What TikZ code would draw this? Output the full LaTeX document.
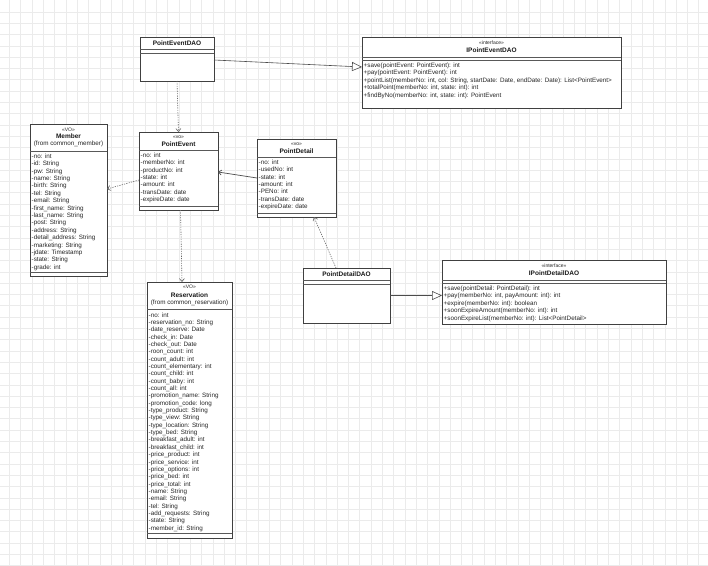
\documentclass[tikz,border=0pt]{standalone}
\usepackage{fontspec}
\setmainfont{Liberation Sans}
\usetikzlibrary{arrows.meta,calc,shadows}
\tikzset{
  cls/.style={draw=black!75, line width=0.7pt, fill=white, rectangle, inner sep=0pt, outer sep=0pt,
    drop shadow={shadow xshift=1.2pt, shadow yshift=-1.2pt, fill=black!35, opacity=0.8}},
  sepline/.style={draw=black!65, line width=0.6pt},
  rowtext/.style={font=\fontsize{6.3}{7.4}\selectfont, inner sep=0pt, anchor=base west, text=black!85},
  clsname/.style={font=\bfseries\fontsize{6.5}{7.5}\selectfont, inner sep=0pt, anchor=base, text=black!90},
  stereo/.style={font=\fontsize{5}{6}\selectfont, inner sep=0pt, anchor=base, text=black!85},
  fromtext/.style={font=\fontsize{6.3}{7.4}\selectfont, inner sep=0pt, anchor=base, text=black!85},
  dep/.style={draw=black!60, line width=0.6pt, dash pattern=on 1.2pt off 1.2pt, -{Straight Barb[length=3pt,width=5pt]}},
  assoc/.style={draw=black!70, line width=0.7pt, -{Straight Barb[length=3pt,width=5pt]}},
  real/.style={draw=black!70, line width=0.6pt, -{Triangle[open,length=10pt,width=9pt,fill=white]}},
  gridline/.style={draw=black!8, line width=0.7pt},
}
\newcommand\classrows[5]{%
  \foreach \t [count=\i] in {#5} {\node[rowtext] (#2\i) at ($(#1.north west)+(1.5,{#3+#4*(\i-1)})$) {\t};}}
\newcommand\seprule[2]{%
  \draw[sepline] ($(#1.north west)+(0,#2)$) -- ($(#1.north east)+(0,#2)$);}
\begin{document}
\begin{tikzpicture}[x=1pt,y=-1pt]
\useasboundingbox (0,0) rectangle (708,565);
\fill[white] (0,0) rectangle (708,565);
\foreach \i in {0,...,62} \draw[gridline] ({9.5+11.3*\i},0) -- ({9.5+11.3*\i},565);
\foreach \j in {0,...,49} \draw[gridline] (0,{12+11.3*\j}) -- (708,{12+11.3*\j});

% ---------- PointEventDAO
\node[cls, minimum width=74pt, minimum height=44pt, anchor=north west] (ped) at (140,37) {};
\node[clsname] (pedname) at ($(ped.north)+(0,8.3)$) {PointEventDAO};
\seprule{ped}{12}\seprule{ped}{16}

% ---------- IPointEventDAO
\node[cls, minimum width=259pt, minimum height=71pt, anchor=north west] (iped) at (362,37) {};
\node[stereo] (ipedst) at ($(iped.north)+(0,7.8)$) {«interface»};
\node[clsname] (ipedname) at ($(iped.north)+(0,15.3)$) {IPointEventDAO};
\seprule{iped}{20}\seprule{iped}{23}
\classrows{iped}{ipedm}{30.2}{7.5}{{+save(pointEvent: PointEvent): int},{+pay(pointEvent: PointEvent): int},{+pointList(memberNo: int, col: String, startDate: Date, endDate: Date): List<PointEvent>},{+totalPoint(memberNo: int, state: int): int},{+findByNo(memberNo: int, state: int): PointEvent}}

% ---------- Member
\node[cls, minimum width=77pt, minimum height=152pt, anchor=north west] (member) at (30,124) {};
\node[stereo] (memst) at ($(member.north)+(0,7)$) {«VO»};
\node[clsname] (memname) at ($(member.north)+(0,14.3)$) {Member};
\node[fromtext] (memfrom) at ($(member.north)+(0,21.3)$) {(from common\_member)};
\seprule{member}{27}\seprule{member}{148}
\classrows{member}{mema}{34.2}{7.4}{-no: int,-id: String,-pw: String,-name: String,-birth: String,-tel: String,-email: String,-first\_name: String,-last\_name: String,-post: String,-address: String,-detail\_address: String,-marketing: String,-jdate: Timestamp,-state: String,-grade: int}

% ---------- PointEvent
\node[cls, minimum width=79pt, minimum height=78pt, anchor=north west] (pe) at (139,132) {};
\node[stereo] (pest) at ($(pe.north)+(0,6.8)$) {«vo»};
\node[clsname] (pename) at ($(pe.north)+(0,14.2)$) {PointEvent};
\seprule{pe}{18}\seprule{pe}{74}
\classrows{pe}{pea}{25.2}{7.4}{-no: int,-memberNo: int,-productNo: int,-state: int,-amount: int,-transDate: date,-expireDate: date}

% ---------- PointDetail
\node[cls, minimum width=79pt, minimum height=78pt, anchor=north west] (pd) at (257,139) {};
\node[stereo] (pdst) at ($(pd.north)+(0,6.8)$) {«vo»};
\node[clsname] (pdname) at ($(pd.north)+(0,14.2)$) {PointDetail};
\seprule{pd}{18}\seprule{pd}{74}
\classrows{pd}{pda}{25.2}{7.4}{-no: int,-usedNo: int,-state: int,-amount: int,-PENo: int,-transDate: date,-expireDate: date}

% ---------- Reservation
\node[cls, minimum width=85pt, minimum height=256pt, anchor=north west] (res) at (147,282) {};
\node[stereo] (resst) at ($(res.north)+(0,6.8)$) {«VO»};
\node[clsname] (resname) at ($(res.north)+(0,15.2)$) {Reservation};
\node[fromtext] (resfrom) at ($(res.north)+(0,22.2)$) {(from common\_reservation)};
\seprule{res}{27}\seprule{res}{251}
\classrows{res}{resa}{35.2}{7.34}{-no: int,-reservation\_no: String,-date\_reserve: Date,-check\_in: Date,-check\_out: Date,-roon\_count: int,-count\_adult: int,-count\_elementary: int,-count\_child: int,-count\_baby: int,-count\_all: int,-promotion\_name: String,-promotion\_code: long,-type\_product: String,-type\_view: String,-type\_location: String,-type\_bed: String,-breakfast\_adult: int,-breakfast\_child: int,-price\_product: int,-price\_service: int,-price\_options: int,-price\_bed: int,-price\_total: int,-name: String,-email: String,-tel: String,-add\_requests: String,-state: String,-member\_id: String}

% ---------- PointDetailDAO
\node[cls, minimum width=87pt, minimum height=55pt, anchor=north west] (pdd) at (303,268) {};
\node[clsname] (pddname) at ($(pdd.north)+(0,8.3)$) {PointDetailDAO};
\seprule{pdd}{12}\seprule{pdd}{16}

% ---------- IPointDetailDAO
\node[cls, minimum width=224pt, minimum height=64pt, anchor=north west] (ipdd) at (442,260) {};
\node[stereo] (ipddst) at ($(ipdd.north)+(0,7.8)$) {«interface»};
\node[clsname] (ipddname) at ($(ipdd.north)+(0,15.3)$) {IPointDetailDAO};
\seprule{ipdd}{20}\seprule{ipdd}{23}
\classrows{ipdd}{ipddm}{30.2}{7.5}{{+save(pointDetail: PointDetail): int},{+pay(memberNo: int, payAmount: int): int},{+expire(memberNo: int): boolean},{+soonExpireAmount(memberNo: int): int},{+soonExpireList(memberNo: int): List<PointDetail>}}

% ---------- connectors
\draw[real] ($(ped.east)+(0,1)$) -- ($(iped.west)+(0,-5.5)$);
\draw[dep] (ped.south) -- (pe.north);
\draw[dep] ($(pe.west)+(0,9)$) -- ($(member.east)+(0,-11)$);
\draw[dep] ($(pe.south)+(2,0)$) -- ($(res.north)+(-7.5,0)$);
\draw[assoc] (pd.west) -- ($(pe.east)+(0,1)$);
\draw[dep] ($(pdd.north)+(-10.5,0)$) -- ($(pd.south)+(17.5,0)$);
\draw[real] (pdd.east) -- (pdd.east -| ipdd.west);
\end{tikzpicture}
\end{document}
